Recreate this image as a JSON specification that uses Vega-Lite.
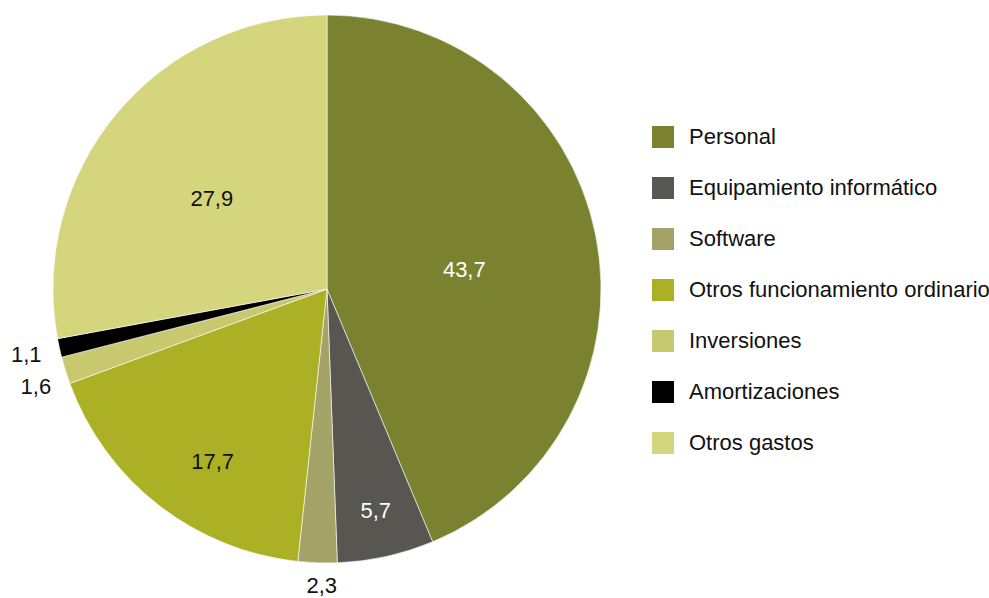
{
  "$schema": "https://vega.github.io/schema/vega-lite/v6.json",
  "width": 654,
  "height": 578,
  "autosize": {"type": "none"},
  "padding": {"left": 0, "top": 0, "right": 335, "bottom": 20},
  "background": "white",
  "config": {
    "view": {"stroke": null},
    "font": "Liberation Sans",
    "locale": {"number": {"decimal": ",", "thousands": ".", "grouping": [3], "currency": ["", " €"]}}
  },
  "data": {
    "values": [
      {"orden": 1, "cat": "Personal", "valor": 43.7},
      {"orden": 2, "cat": "Equipamiento informático", "valor": 5.7},
      {"orden": 3, "cat": "Software", "valor": 2.3},
      {"orden": 4, "cat": "Otros funcionamiento ordinario", "valor": 17.7},
      {"orden": 5, "cat": "Inversiones", "valor": 1.6},
      {"orden": 6, "cat": "Amortizaciones", "valor": 1.1},
      {"orden": 7, "cat": "Otros gastos", "valor": 27.9}
    ]
  },
  "encoding": {
    "theta": {"field": "valor", "type": "quantitative", "stack": true},
    "order": {"field": "orden", "type": "quantitative"},
    "detail": {"field": "cat", "type": "nominal"}
  },
  "layer": [
    {
      "mark": {"type": "arc", "outerRadius": 274, "stroke": "white", "strokeWidth": 0.6},
      "encoding": {
        "color": {
          "field": "cat",
          "type": "nominal",
          "sort": null,
          "scale": {
            "domain": ["Personal", "Equipamiento informático", "Software", "Otros funcionamiento ordinario", "Inversiones", "Amortizaciones", "Otros gastos"],
            "range": ["#7a8230", "#575650", "#a3a267", "#acb024", "#c8c86f", "#000000", "#d5d57e"]
          },
          "legend": {
            "title": null,
            "orient": "none",
            "legendX": 652,
            "legendY": 126,
            "padding": 0,
            "symbolType": "square",
            "symbolSize": 484,
            "symbolStrokeWidth": 0,
            "symbolOpacity": 1,
            "labelFont": "Liberation Sans",
            "labelFontSize": 22,
            "labelColor": "#111111",
            "labelOffset": 15,
            "labelLimit": 400,
            "rowPadding": 29
          }
        }
      }
    },
    {
      "mark": {"type": "text", "radius": 138, "dx": 2, "dy": 8, "fontSize": 22, "fill": "white"},
      "encoding": {"text": {"condition": {"test": "datum.cat === 'Personal'", "field": "valor", "type": "quantitative", "format": ".1f"}, "value": ""}}
    },
    {
      "mark": {"type": "text", "radius": 227, "fontSize": 22, "fill": "white"},
      "encoding": {"text": {"condition": {"test": "datum.cat === 'Equipamiento informático'", "field": "valor", "type": "quantitative", "format": ".1f"}, "value": ""}}
    },
    {
      "mark": {"type": "text", "radius": 297, "dx": 5, "fontSize": 22, "fill": "#111111"},
      "encoding": {"text": {"condition": {"test": "datum.cat === 'Software'", "field": "valor", "type": "quantitative", "format": ".1f"}, "value": ""}}
    },
    {
      "mark": {"type": "text", "radius": 207, "dx": 13, "dy": 10, "fontSize": 22, "fill": "#111111"},
      "encoding": {"text": {"condition": {"test": "datum.cat === 'Otros funcionamiento ordinario'", "field": "valor", "type": "quantitative", "format": ".1f"}, "value": ""}}
    },
    {
      "mark": {"type": "text", "radius": 307, "dx": 2, "dy": 7, "fontSize": 22, "fill": "#111111"},
      "encoding": {"text": {"condition": {"test": "datum.cat === 'Inversiones'", "field": "valor", "type": "quantitative", "format": ".1f"}, "value": ""}}
    },
    {
      "mark": {"type": "text", "radius": 308, "fontSize": 22, "fill": "#111111"},
      "encoding": {"text": {"condition": {"test": "datum.cat === 'Amortizaciones'", "field": "valor", "type": "quantitative", "format": ".1f"}, "value": ""}}
    },
    {
      "mark": {"type": "text", "radius": 146, "dx": -3, "dy": 3, "fontSize": 22, "fill": "#111111"},
      "encoding": {"text": {"condition": {"test": "datum.cat === 'Otros gastos'", "field": "valor", "type": "quantitative", "format": ".1f"}, "value": ""}}
    }
  ]
}
